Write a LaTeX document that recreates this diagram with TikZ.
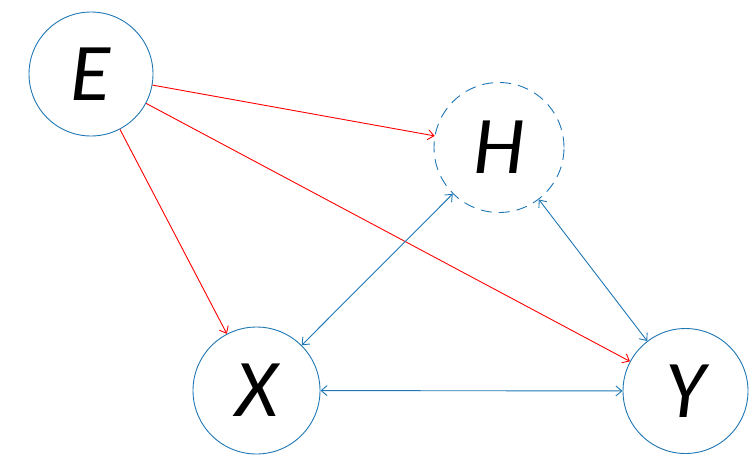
\documentclass[tikz,border=0pt]{standalone}
\usepackage{fontspec}
\setmainfont{Carlito}
\usetikzlibrary{arrows.meta}
\definecolor{nodeblue}{RGB}{31,119,180}
\begin{document}
\begin{tikzpicture}[x=1pt,y=-1pt,
  var/.style={circle, draw=nodeblue, line width=0.9pt, fill=white, inner sep=0pt,
    font=\fontsize{82}{90}\selectfont\itshape},
  latent/.style={var, dashed, dash pattern=on 11pt off 7pt},
  cause/.style={draw=red, line width=0.9pt, -{Straight Barb[length=6pt,width=10pt]}},
  assoc/.style={draw=nodeblue, line width=0.9pt, {Straight Barb[length=6pt,width=10pt]}-{Straight Barb[length=6pt,width=10pt]}}]
\useasboundingbox (0,0) rectangle (749,464);
\node[var, minimum size=124pt] (E) at (91,74) {E};
\node[latent, minimum size=130pt] (H) at (499,147.5) {H};
\node[var, minimum size=127pt] (X) at (256.5,390.5) {X};
\node[var, minimum size=125pt] (Y) at (685.5,391) {Y};
\draw[cause] (E) -- (H);
\draw[cause] (E) -- (X);
\draw[cause] (E) -- (Y);
\draw[assoc] (X) -- (H);
\draw[assoc] (H) -- (Y);
\draw[assoc] (X) -- (Y);
\end{tikzpicture}
\end{document}
